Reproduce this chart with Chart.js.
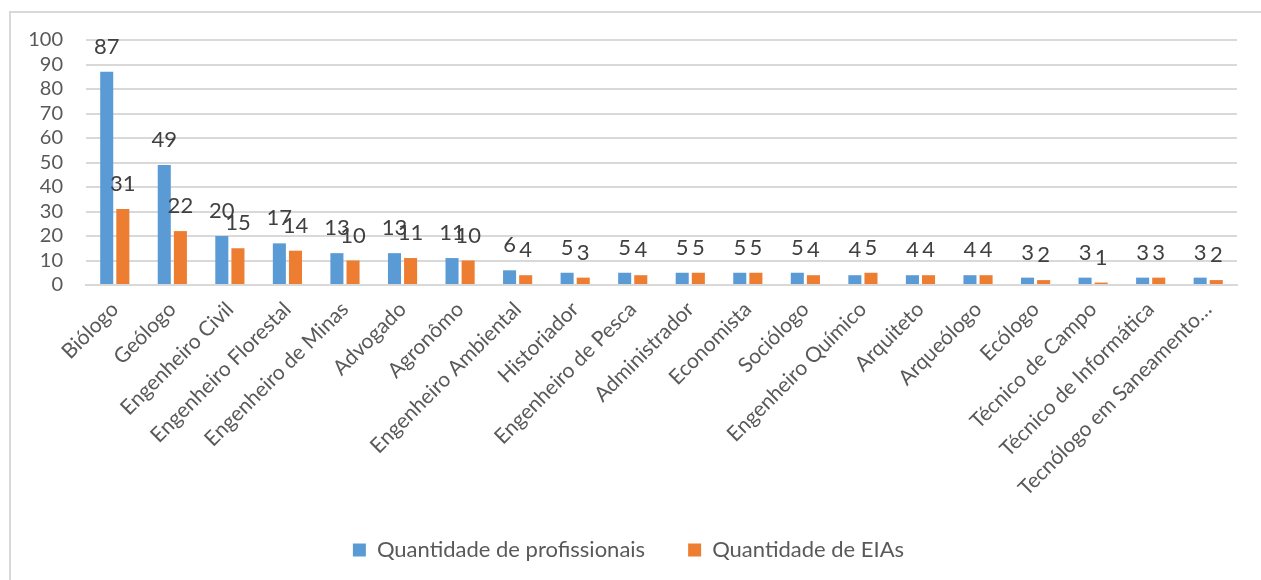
<!DOCTYPE html>
<html>
<head>
<meta charset="utf-8">
<script src="https://cdn.jsdelivr.net/npm/chart.js@4"></script>
<style>
  body { margin: 0; background: #fff; }
  #wrap { width: 1261px; height: 580px; }
</style>
</head>
<body>
<div id="wrap"><canvas id="chart" width="1261" height="580"></canvas></div>
<script>
const categories = ["Biólogo", "Geólogo", "Engenheiro Civil", "Engenheiro Florestal", "Engenheiro de Minas",
  "Advogado", "Agronômo", "Engenheiro Ambiental", "Historiador", "Engenheiro de Pesca", "Administrador",
  "Economista", "Sociólogo", "Engenheiro Químico", "Arquiteto", "Arqueólogo", "Ecólogo", "Técnico de Campo",
  "Técnico de Informática", "Tecnólogo em Saneamento…"]
const profissionais = [87, 49, 20, 17, 13, 13, 11, 6, 5, 5, 5, 5, 5, 4, 4, 4, 3, 3, 3, 3]
const eias = [31, 22, 15, 14, 10, 11, 10, 4, 3, 4, 5, 5, 4, 5, 4, 4, 2, 1, 3, 2]

const FONT = "Lato, Carlito, Calibri, sans-serif"

// value labels above each bar
const barLabels = {
  id: 'barLabels',
  afterDatasetsDraw(chart) {
    const ctx = chart.ctx
    ctx.save()
    ctx.font = "22px " + FONT
    ctx.fillStyle = '#404040'
    ctx.textAlign = 'center'
    ctx.textBaseline = 'middle'
    chart.data.datasets.forEach((ds, i) => {
      chart.getDatasetMeta(i).data.forEach((bar, j) => {
        ctx.fillText(ds.data[j], bar.x, bar.y - 25)
      })
    })
    ctx.restore()
  }
}

// thin frame at top and left like the original chart area
const frame = {
  id: 'frame',
  beforeDraw(chart) {
    const ctx = chart.ctx
    ctx.save()
    ctx.strokeStyle = '#d9d9d9'
    ctx.lineWidth = 2
    ctx.beginPath()
    ctx.moveTo(10, 580)
    ctx.lineTo(10, 12)
    ctx.lineTo(1261, 12)
    ctx.stroke()
    ctx.restore()
  }
}

new Chart(document.getElementById('chart'), {
  type: 'bar',
  data: {
    labels: categories,
    datasets: [{
      label: 'Quantidade de profissionais',
      backgroundColor: '#5b9bd5',
      data: profissionais,
      categoryPercentage: 0.56,
      barPercentage: 0.81
    }, {
      label: 'Quantidade de EIAs',
      backgroundColor: '#ed7d31',
      data: eias,
      categoryPercentage: 0.56,
      barPercentage: 0.81
    }]
  },
  options: {
    responsive: false,
    animation: false,
    layout: { padding: { left: 20, top: 40, right: 24, bottom: 9 } },
    plugins: {
      tooltip: { enabled: false },
      legend: {
        position: 'bottom',
        labels: {
          font: { family: FONT, size: 22 },
          color: '#595959',
          boxWidth: 13,
          boxHeight: 13,
          padding: 43
        }
      }
    },
    scales: {
      x: {
        grid: { display: false },
        border: { color: '#d9d9d9', width: 2 },
        ticks: {
          font: { family: FONT, size: 21 },
          color: '#595959',
          minRotation: 45,
          maxRotation: 45,
          autoSkip: false,
          padding: 4
        },
        afterFit(scale) { scale.height = 211 }
      },
      y: {
        min: 0,
        max: 100,
        grid: { color: '#d9d9d9', lineWidth: 2, drawTicks: false },
        border: { display: false },
        ticks: {
          stepSize: 10,
          autoSkip: false,
          font: { family: FONT, size: 20 },
          color: '#595959',
          padding: 23
        },
        afterFit(scale) { scale.width = 66 }
      }
    }
  },
  plugins: [barLabels, frame]
})
</script>
</body>
</html>
